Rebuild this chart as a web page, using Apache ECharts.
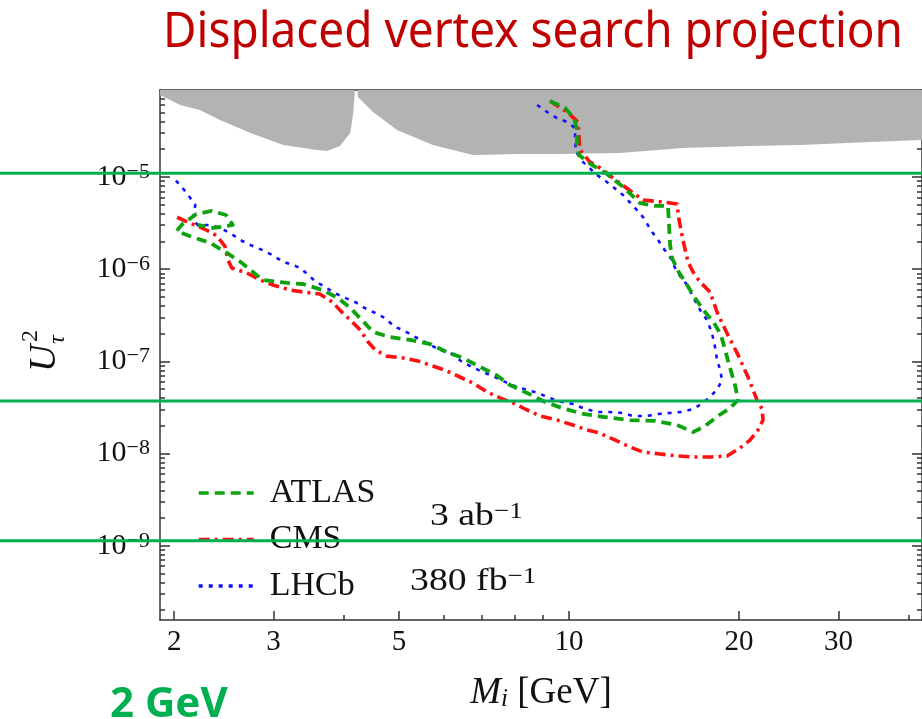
<!DOCTYPE html>
<html>
<head>
<meta charset="utf-8">
<script src="https://cdn.jsdelivr.net/npm/echarts@6/dist/echarts.min.js"></script>
<style>
  html, body { margin: 0; padding: 0; background: #ffffff; }
  #chart { width: 922px; height: 719px; }
</style>
</head>
<body>
<div id="chart"></div>
<script>
// Axis ranges and tick labels
const massRange = [1.888, 42.15];            // M_i [GeV]
const mixingRange = [1.567e-10, 8.78e-5];    // U_tau^2
const massMajorTicks = [2, 3, 5, 10, 20, 30];
const massMinorTicks = [4, 6, 7, 8, 9, 40];
const mixingDecades = [-9, -8, -7, -6, -5];

// Excluded region (grey), lower boundary, two pieces
const excludedLow = [
  [1.888, 7.75e-5], [2.05, 6.04e-5], [2.22, 5.33e-5], [2.41, 4.15e-5], [2.73, 3.00e-5],
  [3.12, 2.22e-5], [3.58, 1.96e-5], [3.73, 1.91e-5], [3.93, 2.17e-5], [4.10, 3.00e-5],
  [4.15, 4.94e-5], [4.18, 8.78e-5]
];
const excludedHigh = [
  [4.22, 8.78e-5], [4.23, 7.38e-5], [4.50, 5.07e-5], [4.96, 3.23e-5], [5.74, 2.22e-5],
  [6.76, 1.73e-5], [8.19, 1.78e-5], [9.64, 1.78e-5], [12.31, 1.82e-5], [15.91, 2.06e-5],
  [20.91, 2.17e-5], [25.64, 2.22e-5], [34.1, 2.40e-5], [42.15, 2.52e-5]
];

// Sensitivity contours [M_i, U_tau^2]
const atlas = [
  [9.25, 6.67e-5], [9.84, 5.60e-5], [10.21, 4.36e-5], [10.33, 3.23e-5], [10.33, 2.22e-5],
  [10.41, 1.73e-5], [10.98, 1.35e-5], [11.67, 1.08e-5], [12.41, 7.99e-6], [13.36, 5.22e-6],
  [14.20, 4.85e-6], [14.97, 4.85e-6], [15.03, 3.02e-6], [15.10, 1.83e-6], [15.22, 1.32e-6],
  [15.60, 9.56e-7], [16.18, 6.74e-7], [16.71, 4.87e-7], [17.41, 3.43e-7], [18.06, 2.61e-7],
  [18.58, 1.93e-7], [18.89, 1.33e-7], [19.28, 8.48e-8], [19.67, 5.55e-8], [19.92, 3.81e-8],
  [19.28, 3.12e-8], [18.35, 2.56e-8], [17.41, 1.99e-8], [16.58, 1.71e-8], [15.53, 2.04e-8],
  [14.20, 2.26e-8], [12.82, 2.31e-8], [11.58, 2.49e-8], [10.59, 2.69e-8], [9.72, 3.12e-8],
  [9.07, 3.63e-8], [8.43, 4.54e-8], [7.86, 5.55e-8], [7.43, 7.12e-8], [6.96, 8.70e-8],
  [6.49, 1.09e-7], [6.08, 1.26e-7], [5.68, 1.54e-7], [5.23, 1.71e-7], [4.82, 1.84e-7],
  [4.50, 2.08e-7], [4.30, 2.81e-7], [4.10, 3.79e-7], [3.90, 4.87e-7], [3.66, 5.95e-7],
  [3.38, 6.91e-7], [3.17, 7.09e-7], [2.87, 7.64e-7], [2.62, 1.20e-6], [2.48, 1.50e-6],
  [2.32, 1.92e-6], [2.13, 2.29e-6], [2.02, 2.60e-6], [2.07, 3.09e-6], [2.19, 3.97e-6],
  [2.33, 4.28e-6], [2.47, 3.87e-6], [2.54, 3.02e-6], [2.35, 2.80e-6], [2.20, 3.02e-6]
];
const cms = [
  [9.25, 6.67e-5], [9.92, 5.07e-5], [10.37, 3.95e-5], [10.41, 2.85e-5], [10.46, 1.96e-5],
  [10.89, 1.45e-5], [11.44, 1.22e-5], [11.96, 9.75e-6], [12.57, 7.79e-6], [13.52, 5.63e-6],
  [14.61, 5.36e-6], [15.53, 5.10e-6], [15.66, 3.42e-6], [15.91, 2.07e-6], [16.24, 1.20e-6],
  [16.58, 9.32e-7], [17.06, 7.27e-7], [17.77, 5.66e-7], [18.28, 3.43e-7], [18.66, 2.61e-7],
  [19.11, 1.93e-7], [19.51, 1.51e-7], [19.92, 1.17e-7], [20.32, 8.91e-8], [20.74, 6.77e-8],
  [21.17, 4.90e-8], [21.52, 3.81e-8], [21.96, 3.05e-8], [22.05, 2.31e-8], [21.60, 1.80e-8],
  [20.91, 1.40e-8], [20.08, 1.15e-8], [19.04, 9.42e-9], [17.77, 9.19e-9], [16.58, 9.19e-9],
  [15.53, 9.42e-9], [14.49, 9.90e-9], [13.52, 1.04e-8], [12.82, 1.18e-8], [12.16, 1.37e-8],
  [11.34, 1.67e-8], [10.76, 1.80e-8], [10.16, 2.04e-8], [9.52, 2.31e-8], [8.89, 2.56e-8],
  [8.43, 2.97e-8], [7.96, 3.54e-8], [7.55, 4.01e-8], [7.16, 4.66e-8], [6.76, 5.83e-8],
  [6.41, 6.77e-8], [6.08, 7.87e-8], [5.74, 8.91e-8], [5.40, 1.01e-7], [5.08, 1.09e-7],
  [4.76, 1.14e-7], [4.54, 1.33e-7], [4.41, 1.62e-7], [4.27, 2.19e-7], [4.10, 2.81e-7],
  [3.96, 3.43e-7], [3.81, 4.41e-7], [3.62, 5.38e-7], [3.38, 5.66e-7], [3.21, 5.95e-7],
  [2.99, 6.74e-7], [2.84, 7.64e-7], [2.69, 9.10e-7], [2.53, 1.03e-6], [2.49, 1.26e-6],
  [2.46, 1.78e-6], [2.38, 2.29e-6], [2.32, 2.53e-6], [2.22, 2.87e-6], [2.13, 3.17e-6],
  [2.02, 3.68e-6]
];
const lhcb = [
  [8.78, 6.04e-5], [9.14, 5.07e-5], [9.52, 4.36e-5], [9.92, 3.95e-5], [10.25, 3.40e-5],
  [10.25, 2.52e-5], [10.29, 1.87e-5], [10.59, 1.45e-5], [11.21, 1.05e-5], [11.67, 8.83e-6],
  [12.46, 6.38e-6], [13.09, 4.61e-6], [13.52, 3.68e-6], [14.03, 2.53e-6], [14.38, 2.07e-6],
  [14.67, 1.70e-6], [15.10, 1.36e-6], [15.53, 9.32e-7], [16.18, 6.74e-7], [16.58, 4.99e-7],
  [17.06, 3.61e-7], [17.55, 2.81e-7], [17.91, 2.03e-7], [18.13, 1.43e-7], [18.28, 1.04e-7],
  [18.51, 8.07e-8], [18.66, 6.28e-8], [18.35, 5.15e-8], [17.91, 4.32e-8], [17.27, 3.54e-8],
  [16.58, 3.05e-8], [15.85, 2.83e-8], [15.10, 2.76e-8], [14.38, 2.69e-8], [13.74, 2.56e-8],
  [12.98, 2.56e-8], [12.41, 2.76e-8], [11.72, 2.83e-8], [11.21, 2.83e-8], [10.67, 3.05e-8],
  [10.16, 3.45e-8], [9.72, 3.63e-8], [9.25, 4.01e-8], [8.81, 4.54e-8], [8.43, 4.90e-8],
  [8.09, 5.28e-8], [7.77, 5.83e-8], [7.46, 6.61e-8], [7.04, 7.67e-8], [6.73, 8.70e-8],
  [6.47, 9.85e-8], [6.21, 1.20e-7], [5.91, 1.33e-7], [5.68, 1.51e-7], [5.34, 1.84e-7],
  [5.08, 2.19e-7], [4.92, 2.36e-7], [4.72, 2.96e-7], [4.54, 3.35e-7], [4.35, 3.79e-7],
  [4.18, 4.41e-7], [3.98, 4.99e-7], [3.82, 5.66e-7], [3.70, 6.41e-7], [3.55, 7.45e-7],
  [3.44, 8.87e-7], [3.34, 1.03e-6], [3.25, 1.11e-6], [3.12, 1.20e-6], [2.98, 1.43e-6],
  [2.86, 1.62e-6], [2.73, 1.83e-6], [2.62, 2.07e-6], [2.51, 2.47e-6], [2.39, 2.87e-6],
  [2.29, 3.02e-6], [2.20, 3.02e-6], [2.16, 3.42e-6], [2.18, 4.97e-6], [2.13, 6.07e-6],
  [2.07, 7.60e-6], [2.01, 9.28e-6]
];

// Horizontal reference levels of U_tau^2
const guideLevels = [1.096e-5, 3.72e-8, 1.136e-9];

const chart = echarts.init(document.getElementById('chart'), null, { renderer: 'canvas' });

const serif = '"Liberation Serif", "DejaVu Serif", serif';
const frameColor = '#333333';
const ink = '#111111';

const decadeValues = mixingDecades.map(e => Math.pow(10, e));
const mixingMinor = [];
for (let e = -10; e <= -5; e++) {
  for (let m = 2; m <= 9; m++) {
    const v = m * Math.pow(10, e);
    if (v > mixingRange[0] && v < mixingRange[1]) mixingMinor.push(v);
  }
}

function massAxis(position, ticks, len, withLine, withLabels, extra) {
  return Object.assign({
    type: 'log', logBase: 10, min: massRange[0], max: massRange[1], position: position,
    axisLine: { show: withLine, onZero: false, lineStyle: { color: frameColor, width: 1.5 } },
    axisTick: { show: true, inside: true, length: len, customValues: ticks,
                lineStyle: { color: frameColor, width: 1.5 } },
    axisLabel: withLabels ? {
      show: true, customValues: ticks, margin: 8, color: ink,
      fontFamily: serif, fontSize: 29, formatter: v => String(Math.round(v))
    } : { show: false },
    splitLine: { show: false }, minorTick: { show: false }, minorSplitLine: { show: false }
  }, extra || {});
}

function mixingAxis(position, ticks, len, withLine, withLabels) {
  return {
    type: 'log', logBase: 10, min: mixingRange[0], max: mixingRange[1], position: position,
    axisLine: { show: withLine, onZero: false, lineStyle: { color: frameColor, width: 1.5 } },
    axisTick: { show: true, inside: true, length: len, customValues: ticks,
                lineStyle: { color: frameColor, width: 1.5 } },
    axisLabel: withLabels ? {
      show: true, customValues: ticks, margin: 10, color: ink,
      formatter: v => '{b|10}{e|\u2212' + Math.abs(Math.round(Math.log10(v))) + '}',
      rich: {
        b: { fontFamily: serif, fontSize: 30, lineHeight: 32, color: ink },
        e: { fontFamily: serif, fontSize: 22, lineHeight: 18, verticalAlign: 'top', color: ink }
      }
    } : { show: false },
    splitLine: { show: false }, minorTick: { show: false }, minorSplitLine: { show: false }
  };
}

function contour(name, data, color, width, dash, z) {
  return {
    name: name, type: 'line', data: data, xAxisIndex: 0, yAxisIndex: 0,
    symbol: 'none', showSymbol: false, smooth: false, z: z,
    lineStyle: { color: color, width: width, type: dash, cap: 'butt', join: 'round' },
    itemStyle: { color: color, opacity: 0 },
    emphasis: { disabled: true }
  };
}

function excluded(data) {
  return {
    type: 'line', data: data, xAxisIndex: 0, yAxisIndex: 0, symbol: 'none', z: 1,
    lineStyle: { width: 0 },
    areaStyle: { origin: 'end', color: '#b3b3b3', opacity: 1 },
    emphasis: { disabled: true }, silent: true
  };
}

chart.setOption({
  animation: false,
  backgroundColor: '#ffffff',
  grid: { left: 160, right: 0, top: 90, bottom: 99, containLabel: false },
  xAxis: [
    massAxis('bottom', massMajorTicks, 9, true, true, {
      name: '{m|M}{i|i}{g| [GeV]}', nameLocation: 'middle', nameGap: 54,
      nameTextStyle: {
        rich: {
          m: { fontFamily: serif, fontStyle: 'italic', fontSize: 37, lineHeight: 38, color: ink },
          i: { fontFamily: serif, fontStyle: 'italic', fontSize: 25, lineHeight: 20, verticalAlign: 'bottom', color: ink },
          g: { fontFamily: serif, fontSize: 37, lineHeight: 38, color: ink }
        }
      }
    }),
    massAxis('bottom', massMinorTicks, 5, false, false),
    massAxis('top', massMajorTicks, 9, true, false),
    massAxis('top', massMinorTicks, 5, false, false)
  ],
  yAxis: [
    mixingAxis('left', decadeValues, 10, true, true),
    mixingAxis('left', mixingMinor, 5, false, false),
    mixingAxis('right', decadeValues, 10, true, false),
    mixingAxis('right', mixingMinor, 5, false, false)
  ],
  legend: {
    data: ['ATLAS', 'CMS', 'LHCb'],
    orient: 'vertical', left: 197, top: 476, padding: 0,
    itemWidth: 55, itemHeight: 20, itemGap: 12.5,
    itemStyle: { opacity: 0 },
    lineStyle: { width: 3.4 },
    textStyle: { fontFamily: serif, fontSize: 34, lineHeight: 34, color: ink, padding: [0, 0, 0, 11] },
    selectedMode: false
  },
  series: [
    excluded(excludedLow),
    excluded(excludedHigh),
    contour('LHCb', lhcb, '#1010ff', 2.6, [4, 6], 3),
    contour('CMS', cms, '#ff1010', 3.6, [11, 5, 3, 5], 4),
    contour('ATLAS', atlas, '#0ea30e', 3.8, [10, 6], 5)
  ]
});

// Overlay texts and horizontal reference lines
const titleText = 'Displaced vertex search projection';
const titleFont = '49px "Noto Sans", "Open Sans", sans-serif';
const measure = document.createElement('canvas').getContext('2d');
measure.font = titleFont;
const titleScale = 740 / measure.measureText(titleText).width;

function luminosityText(x, y, body) {
  return {
    type: 'text', x: x, y: y, scaleX: 1.18, z: 50,
    style: {
      text: '{t|' + body + '}{s|\u22121}', align: 'left', verticalAlign: 'middle',
      rich: {
        t: { fontFamily: serif, fontSize: 32, lineHeight: 34, fill: ink },
        s: { fontFamily: serif, fontSize: 23, lineHeight: 20, verticalAlign: 'top', fill: ink }
      }
    }
  };
}

const overlay = [
  {
    type: 'text', x: 163, y: 33, scaleX: titleScale, z: 50,
    style: { text: titleText, font: titleFont, fill: '#c00000', align: 'left', verticalAlign: 'middle' }
  },
  {
    type: 'text', x: 110, y: 705, z: 50,
    style: { text: '2 GeV', font: 'bold 42px "Noto Sans", "Open Sans", sans-serif', fill: '#00b050', align: 'left', verticalAlign: 'middle' }
  },
  luminosityText(430, 517, '3 ab'),
  luminosityText(410, 582, '380 fb'),
  {
    type: 'group', x: 45, y: 372, rotation: Math.PI / 2, z: 50,
    children: [
      { type: 'text', x: 0, y: 0, style: { text: 'U', font: 'italic 38px ' + serif, fill: ink, align: 'left', verticalAlign: 'middle' } },
      { type: 'text', x: 30, y: -14, style: { text: '2', font: '24px ' + serif, fill: ink, align: 'left', verticalAlign: 'middle' } },
      { type: 'text', x: 28, y: 13, style: { text: '\u03c4', font: 'italic 24px ' + serif, fill: ink, align: 'left', verticalAlign: 'middle' } }
    ]
  }
];

guideLevels.forEach(level => {
  const py = chart.convertToPixel({ yAxisIndex: 0 }, level);
  overlay.push({
    type: 'line', z: 100, silent: true,
    shape: { x1: 0, y1: py, x2: 922, y2: py },
    style: { stroke: '#00b050', lineWidth: 3 }
  });
});

chart.setOption({ graphic: overlay });
</script>
</body>
</html>
